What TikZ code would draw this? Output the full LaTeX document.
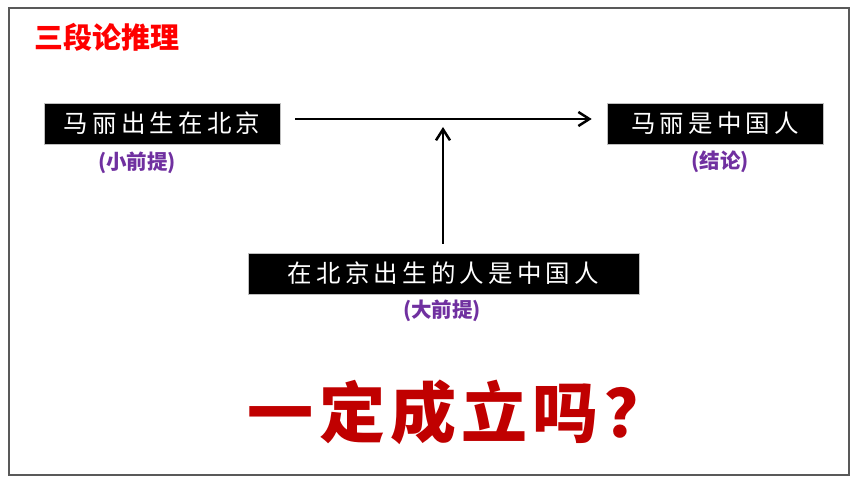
\documentclass[tikz,border=0pt]{standalone}
\usepackage{fontspec}
\setmainfont{Noto Sans CJK SC}
\newfontfamily\boxfont[LetterSpace=17]{Noto Sans CJK SC}
\newfontfamily\bigfont[LetterSpace=8]{Noto Sans CJK SC}
\newfontfamily\cjkfont{Noto Sans CJK SC}
\usetikzlibrary{arrows.meta}
\definecolor{framegray}{HTML}{595959}
\definecolor{labpurple}{HTML}{7030A0}
\definecolor{titlered}{HTML}{FF0000}
\definecolor{darkred}{HTML}{C00000}
\tikzset{
  blackbox/.style={fill=black, draw=gray!50, line width=0.6pt, text=white,
    minimum height=41pt, inner sep=0pt, font=\boxfont\fontsize{24.5}{24.5}\selectfont},
  lab/.style={text=labpurple, font=\cjkfont\bfseries\fontsize{20.5}{20.5}\selectfont, inner sep=0pt},
  arr/.style={line width=2.5pt, -{Straight Barb[length=11pt,width=14pt,line width=2.5pt]}}
}
\begin{document}
\begin{tikzpicture}[x=1pt,y=-1pt]
\useasboundingbox (0,0) rectangle (860,484);
\fill[white] (0,0) rectangle (860,484);
\draw[framegray, line width=2pt] (9,8.5) rectangle (848.5,474.5);
\node[anchor=west, text=titlered, font=\cjkfont\bfseries\fontsize{29}{29}\selectfont, inner sep=0pt] (title) at (34,37) {三段论推理};
\node[blackbox, minimum width=236pt] (minor) at (162,123.5) {马丽出生在北京};
\node[blackbox, minimum width=216pt] (concl) at (715,123.5) {马丽是中国人};
\node[blackbox, minimum width=391pt] (major) at (443.5,273.5) {在北京出生的人是中国人};
\node[lab] (lminor) at (137,163) {(小前提)};
\node[lab] (lconcl) at (720,162) {(结论)};
\node[lab] (lmajor) at (442,311) {(大前提)};
\coordinate (meet) at (443,119);
\draw[arr] ([xshift=15pt,yshift=4.5pt]minor.east) -- ([xshift=-15pt,yshift=4.5pt]concl.west);
\draw[arr, shorten <=9pt, shorten >=8pt] (major.north -| meet) -- (meet);
\node[text=darkred, font=\bigfont\bfseries\fontsize{66}{66}\selectfont, inner sep=0pt] (question) at (459,412) {一定成立吗？};
\end{tikzpicture}
\end{document}
